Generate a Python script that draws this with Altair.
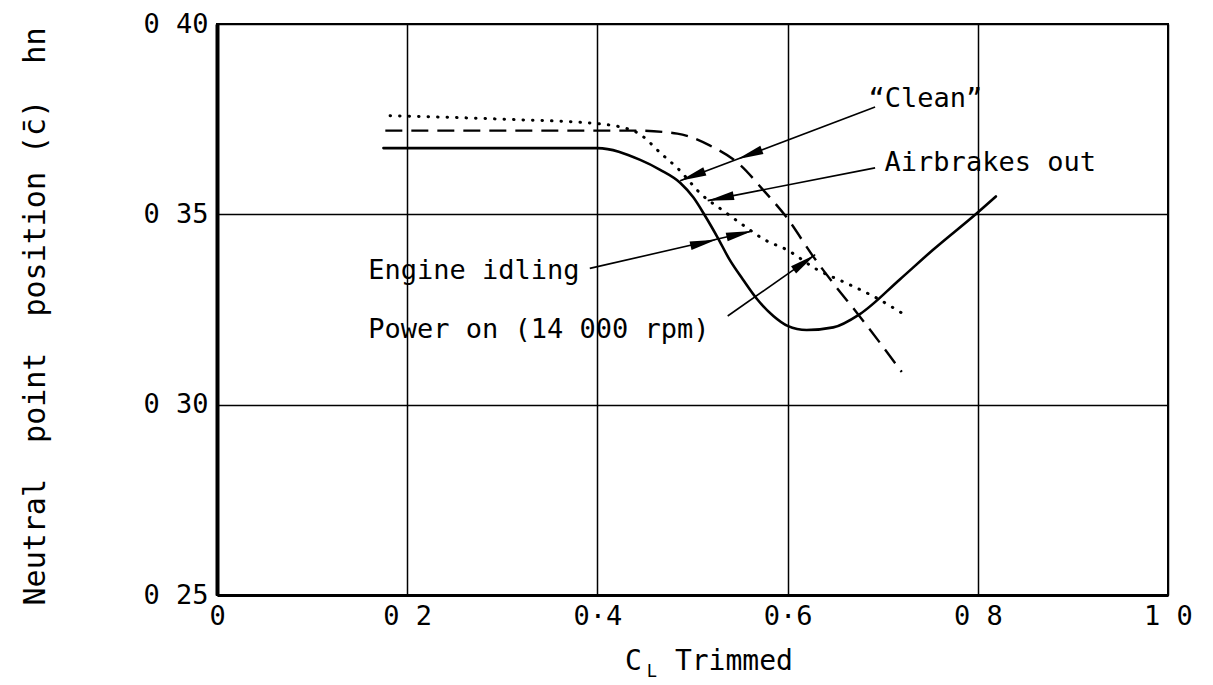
import math
import altair as alt
import pandas as pd

# ---------------- data ----------------
# solid curve ("Clean", engine idling)
idle_cl = [0.175, 0.25, 0.32, 0.40, 0.445, 0.466, 0.487, 0.501, 0.513, 0.526, 0.539, 0.553, 0.568,
           0.585, 0.600, 0.620, 0.648, 0.676, 0.718, 0.753, 0.799, 0.819]
idle_hn = [0.3674, 0.3674, 0.3674, 0.3674, 0.3643, 0.3617, 0.3583, 0.3544, 0.3497, 0.3441, 0.3381, 0.3329, 0.3277,
           0.3233, 0.3207, 0.3196, 0.3203, 0.3238, 0.3329, 0.3407, 0.3503, 0.3547]

# dashed curve ("Clean", power on)
power_cl = [0.177, 0.30, 0.44, 0.484, 0.518, 0.550, 0.574, 0.599, 0.627, 0.648, 0.673, 0.720]
power_hn = [0.3720, 0.3720, 0.3720, 0.3712, 0.3681, 0.3630, 0.3565, 0.3492, 0.3389, 0.3319, 0.3241, 0.3086]

# dotted curve (airbrakes out)
brake_cl = [0.182, 0.30, 0.401, 0.44, 0.469, 0.484, 0.510, 0.532, 0.553, 0.576, 0.599, 0.631, 0.662, 0.690, 0.720]
brake_hn = [0.3759, 0.3750, 0.3738, 0.3717, 0.3655, 0.3622, 0.3551, 0.3510, 0.3472, 0.3433, 0.3407, 0.3355,
            0.3319, 0.3285, 0.3241]

# axis ticks and labels
x_ticks = [0.0, 0.2, 0.4, 0.6, 0.8, 1.0]
x_tick_labels = ["0", "0 2", "0·4", "0·6", "0 8", "1 0"]
y_ticks = [0.25, 0.30, 0.35, 0.40]
y_tick_labels = ["0 25", "0 30", "0 35", "0 40"]

# annotation texts (left edge, vertical centre)
note_text = ["\u201cClean\u201d", "Airbrakes out", "Engine idling", "Power on (14 000 rpm)"]
note_x = [0.685, 0.702, 0.159, 0.159]
note_y = [0.3803, 0.3635, 0.3350, 0.3195]

# leader lines: start (at label) -> end (at curve)
lead_name = ["clean", "brake", "idle", "power"]
lead_x0 = [0.692, 0.692, 0.392, 0.537]
lead_y0 = [0.3782, 0.3622, 0.3358, 0.3233]
lead_x1 = [0.487, 0.516, 0.563, 0.629]
lead_y1 = [0.3588, 0.3536, 0.3456, 0.3394]

# arrow heads: position and the leader they belong to
head_x = [0.547, 0.487, 0.516, 0.525, 0.563, 0.629]
head_y = [0.3645, 0.3588, 0.3536, 0.3433, 0.3456, 0.3394]
head_lead = [0, 0, 1, 2, 2, 3]

# ---------------- build tables ----------------
W, H = 951, 571
X_DOM = [0.0, 1.0]
Y_DOM = [0.25, 0.40]
FONT = "DejaVu Sans Mono"

idle_df = pd.DataFrame({"cl": idle_cl, "hn": idle_hn})
power_df = pd.DataFrame({"cl": power_cl, "hn": power_hn})
brake_df = pd.DataFrame({"cl": brake_cl, "hn": brake_hn})

lead_rows = []
for i, n in enumerate(lead_name):
    lead_rows.append({"name": n, "cl": lead_x0[i], "hn": lead_y0[i], "o": 0})
    lead_rows.append({"name": n, "cl": lead_x1[i], "hn": lead_y1[i], "o": 1})
lead_df = pd.DataFrame(lead_rows)

px_x = W / (X_DOM[1] - X_DOM[0])
px_y = H / (Y_DOM[1] - Y_DOM[0])
head_rows = []
for hx, hy, li in zip(head_x, head_y, head_lead):
    dx = (lead_x1[li] - lead_x0[li]) * px_x
    dy = -(lead_y1[li] - lead_y0[li]) * px_y
    ang = math.degrees(math.atan2(dy, dx)) % 360
    head_rows.append({"cl": hx, "hn": hy, "angle": ang})
head_df = pd.DataFrame(head_rows)

note_df = pd.DataFrame({"cl": note_x, "hn": note_y, "t": note_text})

xlab_expr = "[" + ",".join("'%s'" % s for s in x_tick_labels) + "][round(datum.value*5)]"
ylab_expr = "[" + ",".join("'%s'" % s for s in y_tick_labels) + "][round((datum.value-0.25)*20)]"

x_enc = alt.X(
    "cl:Q",
    scale=alt.Scale(domain=X_DOM, nice=False, zero=False),
    axis=alt.Axis(
        values=x_ticks, labelExpr=xlab_expr, title=None, grid=True, ticks=False,
        labelFlush=False, labelOverlap=False, labelPadding=8,
        labelFont=FONT, labelFontSize=27, labelColor="black",
        domainColor="black", domainWidth=3, gridColor="black", gridWidth=1.5, gridOpacity=1,
    ),
)
y_enc = alt.Y(
    "hn:Q",
    scale=alt.Scale(domain=Y_DOM, nice=False, zero=False),
    axis=alt.Axis(
        values=y_ticks, labelExpr=ylab_expr, grid=True, ticks=False,
        labelFlush=False, labelOverlap=False, labelPadding=9,
        labelFont=FONT, labelFontSize=27, labelColor="black",
        domainColor="black", domainWidth=4, gridColor="black", gridWidth=1.5, gridOpacity=1,
        title="Neutral\u00a0\u00a0point\u00a0\u00a0position\u00a0(c\u0304)\u00a0\u00a0hn",
        titleFont=FONT, titleFontSize=30, titleFontWeight="normal", titleColor="black",
        titleX=-182, titleY=292, titleAngle=270, titleAlign="center", titleBaseline="middle",
    ),
)
x_plain = alt.X("cl:Q", scale=alt.Scale(domain=X_DOM, nice=False, zero=False))
y_plain = alt.Y("hn:Q", scale=alt.Scale(domain=Y_DOM, nice=False, zero=False))

solid = alt.Chart(idle_df).mark_line(
    color="black", strokeWidth=2.6, interpolate="monotone", strokeCap="round"
).encode(x=x_enc, y=y_enc)

dashed = alt.Chart(power_df).mark_line(
    color="black", strokeWidth=2.4, interpolate="monotone", strokeDash=[17, 9]
).encode(x=x_plain, y=y_plain)

dotted = alt.Chart(brake_df).mark_line(
    color="black", strokeWidth=3, interpolate="monotone", strokeDash=[0.5, 9], strokeCap="round"
).encode(x=x_plain, y=y_plain)

leaders = alt.Chart(lead_df).mark_line(color="black", strokeWidth=1.6).encode(
    x=x_plain, y=y_plain, detail="name:N", order="o:Q"
)

heads = alt.Chart(head_df).mark_point(
    shape="M0,0L-2.4,-0.4L-2.4,0.4Z", filled=True, color="black", opacity=1, size=484
).encode(x=x_plain, y=y_plain, angle=alt.Angle("angle:Q", scale=None))

notes = alt.Chart(note_df).mark_text(
    align="left", baseline="middle", font=FONT, fontSize=27, color="black"
).encode(x=x_plain, y=y_plain, text="t:N")

# x-axis title "C_L Trimmed"
xt_df = pd.DataFrame({"cl": [0.429, 0.4815], "hn": [0.2325, 0.2325], "t": ["C", "Trimmed"]})
xs_df = pd.DataFrame({"cl": [0.452], "hn": [0.2298], "t": ["L"]})
xtitle = alt.Chart(xt_df).mark_text(
    align="left", baseline="middle", font=FONT, fontSize=28, color="black"
).encode(x=x_plain, y=y_plain, text="t:N")
xsub = alt.Chart(xs_df).mark_text(
    align="left", baseline="middle", font=FONT, fontSize=17, color="black"
).encode(x=x_plain, y=y_plain, text="t:N")

chart = alt.layer(solid, dashed, dotted, leaders, heads, notes, xtitle, xsub).properties(
    width=W, height=H,
    padding={"left": 209, "top": 16, "right": 30, "bottom": 88},
    autosize=alt.AutoSizeParams(type="none"),
    background="white",
).configure_view(stroke="black", strokeWidth=2)

chart.save("out.html", embed_options={"renderer": "svg", "actions": False})
